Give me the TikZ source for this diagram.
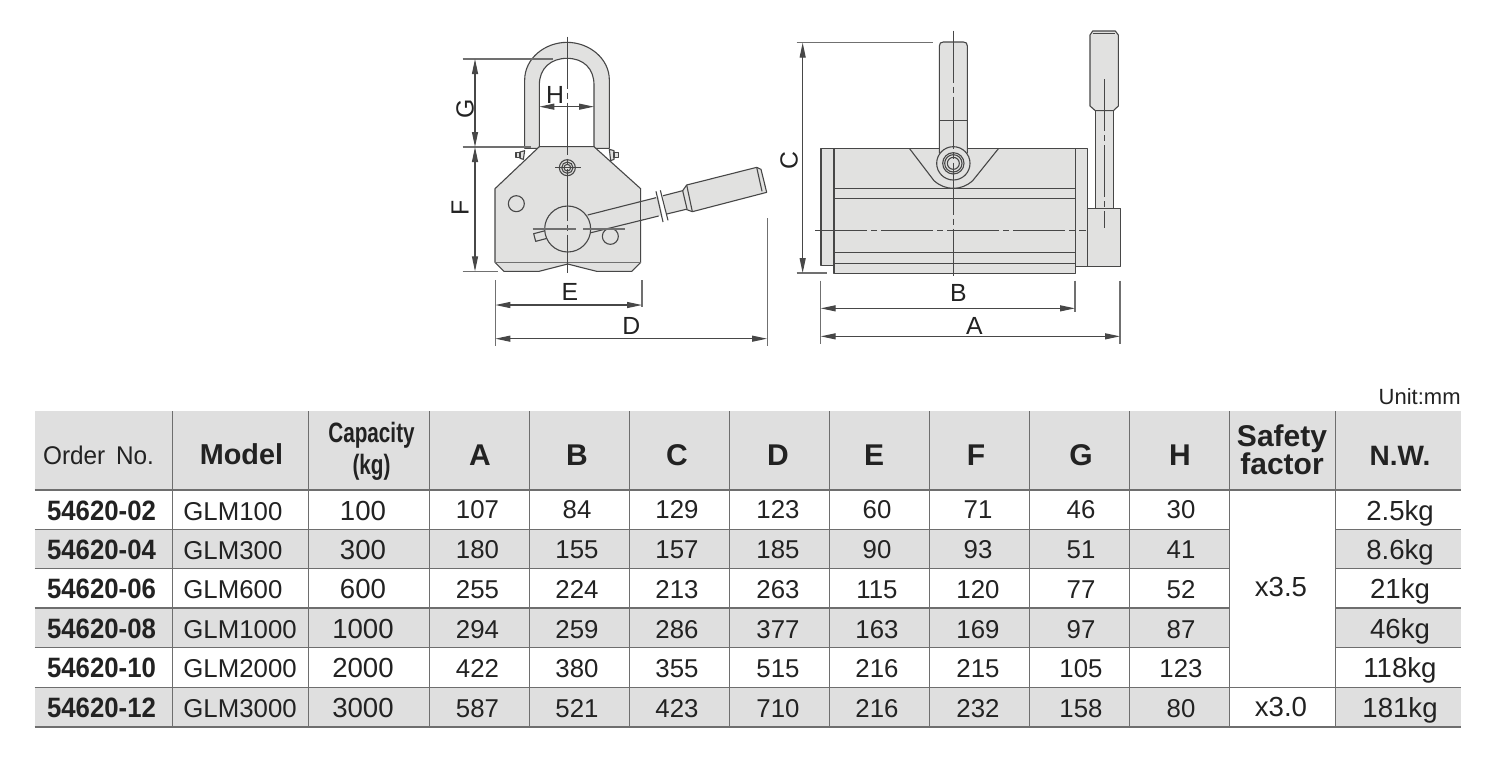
\documentclass[tikz,border=0pt]{standalone}
\usepackage{fontspec}
\setmainfont{Liberation Sans}
\usetikzlibrary{arrows.meta}
\definecolor{partfill}{HTML}{E1E1E0}
\definecolor{rowgray}{HTML}{DFDFDF}
\definecolor{ink}{HTML}{222222}
\definecolor{gridline}{HTML}{6E6E6E}
\definecolor{partline}{HTML}{474747}
\definecolor{dimline}{HTML}{707070}
\tikzset{
  part/.style={draw=partline,fill=partfill,line width=.55pt,line join=round},
  plainline/.style={draw=partline,line width=.55pt},
  centreline/.style={draw=partline,line width=.5pt,dash pattern=on 26pt off 2pt on 3pt off 2pt},
  extline/.style={draw=dimline,line width=.6pt},
  dimarrow/.style={draw=partline,line width=.55pt,{Stealth[length=7.5pt,width=3pt,inset=0pt]}-{Stealth[length=7.5pt,width=3pt,inset=0pt]}},
  dimlabel/.style={inner sep=0pt,text=ink,font=\fontsize{12.4}{14}\selectfont},
  cell/.style={inner sep=0pt,anchor=base,text=ink,font=\fontsize{12.9}{15}\selectfont},
  widecell/.style={cell,font=\fontsize{13.8}{16}\selectfont},
  modelcell/.style={cell,anchor=base west},
  ordercell/.style={inner sep=0pt,anchor=base,text=ink,font=\fontsize{14}{16}\selectfont\bfseries},
  headcell/.style={inner sep=0pt,anchor=base,text=ink,font=\fontsize{14}{16}\selectfont\bfseries},
  grid/.style={draw=gridline,line width=.55pt},
  view/.style={x=.16667pt,y=-.16667pt}
}
\begin{document}
\begin{tikzpicture}[x=.5pt,y=-.5pt]
\useasboundingbox (0,0) rectangle (1510,762);
\fill[white] (0,0) rectangle (1510,762);

%---------- table backgrounds
\fill[rowgray] (34.5,411) rectangle (1461,490);
\foreach \ya/\yb in {529.3/568.7,608/647.7,687.3/727}{
  \fill[rowgray] (34.5,\ya) rectangle (1229.7,\yb);
  \fill[rowgray] (1335.3,\ya) rectangle (1461,\yb);
}
\fill[white] (1229.7,490) rectangle (1335.3,727);
%---------- table grid
\foreach \yy in {490,529.3,568.7,608,647.7}{
  \draw[grid] (34.5,\yy) -- (1229.7,\yy);
  \draw[grid] (1335.3,\yy) -- (1461,\yy);
}
\draw[grid] (1229.7,490) -- (1335.3,490);
\foreach \yy in {687.3,727}{ \draw[grid] (34.5,\yy) -- (1461,\yy); }
\foreach \xx in {172.3,308.7,429.3,529.3,629.3,729.3,829.3,929.3,1029.5,1129.7,1229.7,1335.3}{
  \draw[grid] (\xx,411) -- (\xx,727);
}
%---------- header
\node[cell,anchor=base east,font=\fontsize{11}{13}\selectfont] (unit) at (1461,404) {Unit:mm};
\node[inner sep=0pt,anchor=base,text=ink,font=\fontsize{12.8}{15}\selectfont] (hOrder) at (98.5,464) {\scalebox{.95}[1]{Order\, No.}};
\node[headcell,font=\fontsize{14.4}{16}\selectfont\bfseries] (hModel) at (241.5,464) {Model};
\node[headcell] (hCap) at (371.5,442) {\scalebox{.74}[1]{Capacity}};
\node[headcell] (hKg) at (371.5,474) {\scalebox{.74}[1]{(kg)}};
\foreach \nm/\xx in {A/480,B/577,C/677,D/778,E/874,F/976,G/1081,H/1180}{
  \node[headcell,font=\fontsize{15}{17}\selectfont\bfseries] (h\nm) at (\xx,465) {\nm};
}
\node[headcell,font=\fontsize{15}{17}\selectfont\bfseries] (hSafety) at (1282,446) {Safety};
\node[headcell,font=\fontsize{15}{17}\selectfont\bfseries] (hFactor) at (1282,474) {factor};
\node[headcell] (hNW) at (1400,465) {N.W.};
%---------- rows
\foreach \r/\yb/\yd/\vO/\vM/\vK/\vA/\vB/\vC/\vD/\vE/\vF/\vG/\vH/\vW in {
  1/520/518/54620-02/GLM100/100/107/84/129/123/60/71/46/30/2.5kg,
  2/559/558/54620-04/GLM300/300/180/155/157/185/90/93/51/41/8.6kg,
  3/598/598/54620-06/GLM600/600/255/224/213/263/115/120/77/52/21kg,
  4/638/638/54620-08/GLM1000/1000/294/259/286/377/163/169/97/87/46kg,
  5/677/677/54620-10/GLM2000/2000/422/380/355/515/216/215/105/123/118kg,
  6/717/717/54620-12/GLM3000/3000/587/521/423/710/216/232/158/80/181kg}{
  \node[ordercell] (o\r) at (101.5,\yb) {\scalebox{.92}[1]{\vO}};
  \node[modelcell] (m\r) at (183,\yb) {\vM};
  \node[widecell] (k\r) at (363,\yb) {\vK};
  \node[cell] (a\r) at (477.5,\yd) {\vA};
  \node[cell] (b\r) at (577,\yd) {\vB};
  \node[cell] (c\r) at (677,\yd) {\vC};
  \node[cell] (d\r) at (778,\yd) {\vD};
  \node[cell] (e\r) at (877,\yd) {\vE};
  \node[cell] (f\r) at (978,\yd) {\vF};
  \node[cell] (g\r) at (1081,\yd) {\vG};
  \node[cell] (j\r) at (1181,\yd) {\vH};
  \node[widecell] (w\r) at (1400,\yb) {\vW};
}
\node[widecell] (sf1) at (1281,596) {x3.5};
\node[widecell] (sf2) at (1281,716) {x3.0};

%---------- front view
\begin{scope}[shift={(440,30)},view]
  % bolts
  \draw[part] (254,362) -- (240,366) -- (240,385) -- (250,388) -- cycle;
  \draw[part] (228,368) rectangle (240,383);
  \draw[part] (508,358) -- (522,362) -- (522,388) -- (512,392) -- cycle;
  \draw[part] (522,367) rectangle (535,382);
  % shackle
  \draw[part] (254,355) -- (254,150) .. controls (254,85) and (315,37) .. (381,37)
     .. controls (447,37) and (508,85) .. (508,150) -- (508,355)
     -- (462,355) -- (462,165) .. controls (462,115) and (430,85) .. (381,85)
     .. controls (332,85) and (298,115) .. (298,165) -- (298,355) -- cycle;
  % body
  \draw[part] (298,350) -- (462,350) -- (602,476) -- (602,697) -- (575,724) -- (470,724)
     -- (383,702) -- (297,724) -- (192,724) -- (165,697) -- (165,476) -- cycle;
  \draw[draw=dimline,line width=.35pt] (165,697) -- (602,697);
  % holes
  \draw[plainline] (229,521) circle[radius=24];
  \draw[plainline] (511,619) circle[radius=24];
  % handle, in front of the body
  \fill[partfill] (443,555) -- (728,482) -- (740,465) -- (950,412) -- (963,418) -- (980,487)
     -- (757,545) -- (738,538) -- (453,608) -- cycle;
  \draw[plainline,line join=round] (443,555) -- (648,503);
  \draw[plainline,line join=round] (662,499) -- (728,482) -- (740,465) -- (950,412) -- (963,418) -- (980,487)
     -- (757,545) -- (738,538) -- (672,554);
  \draw[plainline] (656,558) -- (453,608);
  \draw[plainline] (728,482) -- (741,537);
  \draw[plainline] (740,465) -- (757,545);
  \draw[plainline] (950,412) -- (966,484);
  \draw[plainline] (602,476) -- (602,697);
  \fill[white] (651,480) -- (664,477) -- (684,568) -- (671,572) -- cycle;
  \draw[plainline] (648,484) -- (669,576);
  \draw[plainline] (661,481) -- (684,571);
  % lock stub and cam
  \draw[part] (281,611) -- (316,602) -- (321,625) -- (287,634) -- cycle;
  \draw[part] (383,597) circle[radius=69];
  \draw[plainline] (382,413) circle[radius=24];
  \draw[plainline] (382,413) circle[radius=17];
  \draw[plainline] (382,413) circle[radius=10];
  % centre lines
  \draw[centreline] (382,20) -- (382,730);
  \draw[plainline] (346,413) -- (424,413);
  \draw[extline] (278,597) -- (408,597);
  \draw[extline] (430,597) -- (556,597);
  % dimension coordinates
  \coordinate (gT) at (105,87);   \coordinate (gM) at (105,351);  \coordinate (fB) at (105,724);
  \coordinate (hL) at (298,230);  \coordinate (hR) at (462,230);
  \coordinate (eL) at (166,825);  \coordinate (eR) at (606,825);
  \coordinate (dL) at (166,926);  \coordinate (dR) at (981,926);
  \draw[extline] (68,87) -- (340,87);
  \draw[extline] (68,351) -- (272,351);
  \draw[extline] (68,724) -- (175,724);
  \draw[extline] (166,750) -- (166,948);
  \draw[extline] (606,750) -- (606,830);
  \draw[extline] (982,565) -- (982,948);
  \draw[dimarrow] (gT) -- (gM);
  \draw[dimarrow] (gM) -- (fB);
  \draw[dimarrow] (hL) -- (hR);
  \draw[dimarrow] (eL) -- (eR);
  \draw[dimarrow] (dL) -- (dR);
  \node[dimlabel,rotate=90] (lG) at (75,237) {G};
  \node[dimlabel,rotate=90] (lF) at (60,535) {F};
  \node[dimlabel] (lH) at (345,195) {H};
  \node[dimlabel] (lE) at (390,787) {E};
  \node[dimlabel] (lD) at (574,887) {D};
\end{scope}

%---------- side view
\begin{scope}[shift={(780,20)},view]
  % flanges and body
  \draw[part] (123,385) rectangle (162,737);
  \draw[part] (886,385) rectangle (923,739);
  \draw[part] (162,385) rectangle (886,760);
  \foreach \yy in {505,535,698,731}{ \draw[plainline] (162,\yy) -- (886,\yy); }
  % bracket
  \draw[plainline] (388,385) -- (462,482) .. controls (480,498) and (500,505) .. (520,505)
     .. controls (540,505) and (560,498) .. (578,482) -- (656,385);
  % shackle side
  \draw[part] (478,400) -- (478,78) .. controls (478,70) and (482,66) .. (490,66) -- (550,66)
     .. controls (558,66) and (562,70) .. (562,78) -- (562,400);
  \draw[plainline] (478,302) -- (562,302);
  % pivot
  \draw[part] (520,430) circle[radius=50];
  \draw[plainline] (520,430) circle[radius=32];
  \draw[plainline] (520,430) circle[radius=26];
  \draw[plainline] (520,430) circle[radius=18];
  % handle
  \draw[part] (946,272) rectangle (1000,565);
  \draw[part] (930,45) -- (938,33) -- (1006,33) -- (1015,45) -- (1015,258) -- (1000,272)
     -- (946,272) -- (930,258) -- cycle;
  \draw[plainline] (938,40) -- (1006,40);
  \draw[part] (923,565) rectangle (1022,739);
  % centre lines
  \draw[centreline] (521,32) -- (521,768);
  \draw[centreline] (105,632) -- (918,632);
  \draw[centreline] (973,178) -- (973,625);
  % dimension coordinates
  \coordinate (cT) at (68,68);   \coordinate (cB) at (68,759);
  \coordinate (bL) at (122,865); \coordinate (bR) at (885,865);
  \coordinate (aL) at (122,949); \coordinate (aR) at (1020,949);
  \draw[extline] (50,68) -- (458,68);
  \draw[extline] (50,759) -- (140,759);
  \draw[extline] (122,782) -- (122,972);
  \draw[extline] (885,782) -- (885,875);
  \draw[extline] (1020,782) -- (1020,972);
  \draw[dimarrow] (cT) -- (cB);
  \draw[dimarrow] (bL) -- (bR);
  \draw[dimarrow] (aL) -- (aR);
  \node[dimlabel,rotate=90] (lC) at (27,422) {C};
  \node[dimlabel] (lB) at (535,820) {B};
  \node[dimlabel] (lA) at (583,917) {A};
\end{scope}
\end{tikzpicture}
\end{document}
